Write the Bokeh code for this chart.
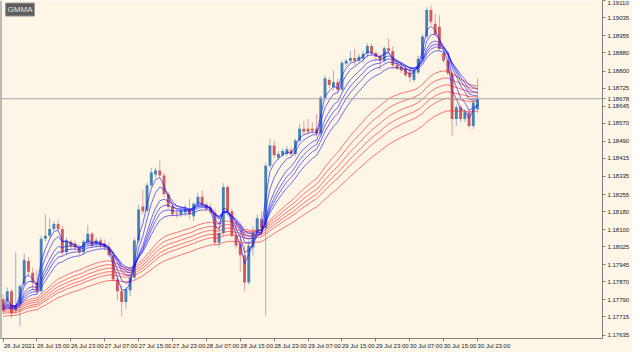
from bokeh.plotting import figure
from bokeh.models import (ColumnDataSource, FixedTicker, PrintfTickFormatter,
                          Span, Label, Range1d)
from bokeh.embed import file_html
from bokeh.resources import INLINE

# ---------------- data (EURUSD H1, 26 Jul 07:00 - 30 Jul 23:00 2021) -------------
opens = [1.17794, 1.17786, 1.17829, 1.17743, 1.17773, 1.17859, 1.17962, 1.17910, 1.17867, 1.17829,
         1.18060, 1.18073, 1.18103, 1.18125, 1.18103, 1.18000, 1.18048, 1.18039, 1.18022, 1.18000,
         1.18043, 1.18082, 1.18039, 1.18052, 1.18039, 1.18022, 1.17987, 1.17880, 1.17829, 1.17781,
         1.17833, 1.17889, 1.18052, 1.18202, 1.18185, 1.18296, 1.18344, 1.18361, 1.18339, 1.18258,
         1.18202, 1.18172, 1.18168, 1.18176, 1.18193, 1.18159, 1.18215, 1.18245, 1.18211, 1.18193,
         1.18176, 1.18043, 1.18086, 1.18288, 1.18181, 1.18073, 1.18039, 1.17987, 1.17867, 1.18022,
         1.18086, 1.18146, 1.18108, 1.18382, 1.18472, 1.18417, 1.18429, 1.18434, 1.18451, 1.18434,
         1.18494, 1.18545, 1.18545, 1.18545, 1.18545, 1.18524, 1.18683, 1.18760, 1.18730, 1.18751,
         1.18717, 1.18833, 1.18846, 1.18858, 1.18846, 1.18854, 1.18876, 1.18910, 1.18880, 1.18867,
         1.18846, 1.18901, 1.18889, 1.18828, 1.18820, 1.18811, 1.18794, 1.18760, 1.18794, 1.18854,
         1.18953, 1.19069, 1.19009, 1.18996, 1.18880, 1.18846, 1.18790, 1.18588, 1.18640, 1.18588,
         1.18618, 1.18558, 1.18631]
highs = [1.17816, 1.17846, 1.17837, 1.18000, 1.17859, 1.17996, 1.17979, 1.17932, 1.17923, 1.18073,
         1.18168, 1.18151, 1.18138, 1.18142, 1.18116, 1.18065, 1.18056, 1.18052, 1.18035, 1.18056,
         1.18120, 1.18090, 1.18065, 1.18065, 1.18056, 1.18043, 1.18009, 1.17893, 1.17859, 1.17846,
         1.17902, 1.18065, 1.18211, 1.18275, 1.18309, 1.18374, 1.18374, 1.18408, 1.18352, 1.18266,
         1.18215, 1.18185, 1.18198, 1.18211, 1.18236, 1.18223, 1.18262, 1.18275, 1.18223, 1.18215,
         1.18193, 1.18103, 1.18305, 1.18296, 1.18193, 1.18138, 1.18095, 1.18030, 1.18052, 1.18116,
         1.18168, 1.18181, 1.18395, 1.18502, 1.18494, 1.18447, 1.18459, 1.18468, 1.18464, 1.18502,
         1.18567, 1.18580, 1.18588, 1.18575, 1.18610, 1.18691, 1.18781, 1.18773, 1.18803, 1.18768,
         1.18846, 1.18854, 1.18889, 1.18897, 1.18876, 1.18889, 1.18923, 1.18923, 1.18889, 1.18876,
         1.18910, 1.18944, 1.18910, 1.18846, 1.18837, 1.18824, 1.18811, 1.18811, 1.18867, 1.18962,
         1.19082, 1.19090, 1.19052, 1.19047, 1.18889, 1.18854, 1.18803, 1.18652, 1.18652, 1.18631,
         1.18631, 1.18674, 1.18768]
lows = [1.17730, 1.17773, 1.17709, 1.17730, 1.17674, 1.17850, 1.17893, 1.17833, 1.17816, 1.17816,
        1.18048, 1.18065, 1.18095, 1.18095, 1.17987, 1.17987, 1.18013, 1.18009, 1.17987, 1.17992,
        1.18035, 1.18022, 1.18022, 1.18017, 1.18009, 1.17979, 1.17872, 1.17786, 1.17717, 1.17751,
        1.17807, 1.17880, 1.18039, 1.18168, 1.18176, 1.18288, 1.18331, 1.18331, 1.18245, 1.18193,
        1.18159, 1.18151, 1.18155, 1.18159, 1.18146, 1.18138, 1.18202, 1.18202, 1.18181, 1.18168,
        1.18030, 1.18022, 1.18073, 1.18159, 1.18065, 1.18017, 1.17914, 1.17829, 1.17859, 1.17987,
        1.18073, 1.18095, 1.17721, 1.18374, 1.18417, 1.18408, 1.18421, 1.18425, 1.18425, 1.18425,
        1.18485, 1.18520, 1.18520, 1.18524, 1.18511, 1.18515, 1.18674, 1.18725, 1.18717, 1.18704,
        1.18708, 1.18824, 1.18837, 1.18824, 1.18837, 1.18837, 1.18858, 1.18867, 1.18846, 1.18803,
        1.18837, 1.18880, 1.18811, 1.18803, 1.18790, 1.18773, 1.18751, 1.18751, 1.18786, 1.18846,
        1.18944, 1.19004, 1.18953, 1.18889, 1.18837, 1.18781, 1.18515, 1.18558, 1.18575, 1.18575,
        1.18545, 1.18545, 1.18614]
closes = [1.17743, 1.17829, 1.17730, 1.17764, 1.17850, 1.17966, 1.17914, 1.17867, 1.17829, 1.18060,
          1.18073, 1.18103, 1.18125, 1.18103, 1.18000, 1.18052, 1.18026, 1.18022, 1.18000, 1.18048,
          1.18082, 1.18030, 1.18052, 1.18030, 1.18022, 1.17987, 1.17880, 1.17829, 1.17781, 1.17837,
          1.17889, 1.18052, 1.18189, 1.18181, 1.18296, 1.18352, 1.18361, 1.18339, 1.18258, 1.18202,
          1.18168, 1.18168, 1.18185, 1.18193, 1.18168, 1.18215, 1.18245, 1.18211, 1.18193, 1.18176,
          1.18043, 1.18086, 1.18288, 1.18181, 1.18073, 1.18030, 1.17987, 1.17867, 1.18030, 1.18086,
          1.18151, 1.18108, 1.18382, 1.18472, 1.18429, 1.18434, 1.18447, 1.18455, 1.18434, 1.18494,
          1.18545, 1.18532, 1.18532, 1.18537, 1.18524, 1.18683, 1.18768, 1.18738, 1.18751, 1.18717,
          1.18837, 1.18846, 1.18858, 1.18846, 1.18863, 1.18876, 1.18910, 1.18876, 1.18863, 1.18846,
          1.18901, 1.18889, 1.18824, 1.18811, 1.18803, 1.18781, 1.18773, 1.18803, 1.18854, 1.18953,
          1.19069, 1.19017, 1.18962, 1.18897, 1.18846, 1.18790, 1.18588, 1.18640, 1.18588, 1.18618,
          1.18558, 1.18661, 1.18678]

# GMMA: short (blue) and long (red) EMA periods, with each EMA's value at the first visible bar
short_periods = [3, 5, 8, 10, 12, 15]
short_start = [1.17764, 1.17760, 1.17755, 1.17751, 1.17747, 1.17743]
long_periods = [30, 35, 40, 45, 50, 60]
long_start = [1.17764, 1.17755, 1.17747, 1.17738, 1.17730, 1.17717]

last_price = 1.18678
price_ticks = [1.19110, 1.19035, 1.18955, 1.18880, 1.18800, 1.18725, 1.18645, 1.18570,
               1.18490, 1.18415, 1.18335, 1.18255, 1.18180, 1.18100, 1.18025, 1.17945,
               1.17870, 1.17790, 1.17715, 1.17635]
time_tick_bars = [0, 8, 16, 24, 32, 40, 48, 56, 64, 72, 80, 88, 96, 104, 112]
time_labels = ["26 Jul 2021", "26 Jul 15:00", "26 Jul 23:00", "27 Jul 07:00", "27 Jul 15:00",
               "27 Jul 23:00", "28 Jul 07:00", "28 Jul 15:00", "28 Jul 23:00", "29 Jul 07:00",
               "29 Jul 15:00", "29 Jul 23:00", "30 Jul 07:00", "30 Jul 15:00", "30 Jul 23:00"]


def ema(values, period, start):
    k = 2.0 / (period + 1)
    out = [start]
    for v in values[1:]:
        out.append(out[-1] + k * (v - out[-1]))
    return out


BG = "#fdf5e6"
UP = "#4682b4"
DOWN = "#cd5c5c"
FONT = "Liberation Sans"
FS = "6px"

y0, y1 = 1.17620, 1.191113
x0, x1 = -0.6, 141.5
LABEL_SHIFT = 3.875  # bars: puts each centred time label just right of its tick

p = figure(width=632, height=352, output_backend="svg", toolbar_location=None,
           x_range=Range1d(x0, x1), y_range=Range1d(y0, y1),
           x_axis_location="below", y_axis_location="right",
           min_border_left=0, min_border_top=0, min_border_right=26, min_border_bottom=14,
           background_fill_color=BG, border_fill_color=BG, outline_line_color=None)
p.grid.visible = False

# candles
idx = list(range(len(closes)))
colors = [UP if c >= o else DOWN for o, c in zip(opens, closes)]
src = ColumnDataSource(dict(
    x=idx, h=highs, l=lows,
    top=[max(o, c) for o, c in zip(opens, closes)],
    bottom=[min(o, c) for o, c in zip(opens, closes)],
    color=colors))
p.segment(x0="x", y0="h", x1="x", y1="l", source=src, line_color="color",
          line_alpha=0.55, line_width=1)
p.vbar(x="x", top="top", bottom="bottom", width=0.68, source=src,
       fill_color="color", line_color=None)

# GMMA lines
for per, st in zip(long_periods, long_start):
    p.line(idx, ema(closes, per, st), line_color="#ff2020", line_alpha=0.6, line_width=1)
for per, st in zip(short_periods, short_start):
    p.line(idx, ema(closes, per, st), line_color="#1010ff", line_alpha=0.6, line_width=1)

# current price line and left border
p.add_layout(Span(location=last_price, dimension="width", line_color="#a8a8a8", line_width=1))
p.add_layout(Span(location=x0, dimension="height", line_color="#808080", line_width=2))

# right price axis (includes the last price)
ax = p.yaxis[0]
ax.ticker = FixedTicker(ticks=price_ticks + [last_price])
ax.formatter = PrintfTickFormatter(format="%.5f")
ax.major_label_text_font_size = FS
ax.major_label_text_font = FONT
ax.major_label_text_color = "#222222"
ax.major_tick_out = 3
ax.major_tick_in = 0
ax.minor_tick_line_color = None
ax.axis_line_color = "#7f7f7f"
ax.major_tick_line_color = "#7f7f7f"
ax.major_label_standoff = 2

# bottom time axis: minor ticks mark the bars, major (hidden) ticks carry the labels
label_pos = [b + LABEL_SHIFT for b in time_tick_bars]
bx = p.xaxis[0]
bx.ticker = FixedTicker(ticks=label_pos, minor_ticks=time_tick_bars)
bx.major_label_overrides = {lp: t for lp, t in zip(label_pos, time_labels)}
bx.major_label_text_font_size = FS
bx.major_label_text_font = FONT
bx.major_label_text_color = "#222222"
bx.major_label_standoff = 1
bx.major_tick_out = 3
bx.major_tick_in = 0
bx.major_tick_line_color = None
bx.minor_tick_out = 3
bx.minor_tick_in = 0
bx.minor_tick_line_color = "#7f7f7f"
bx.axis_line_color = "#7f7f7f"

# GMMA button
p.add_layout(Label(x=0.6, y=1.19100, text="GMMA", text_font_size="8px", text_font=FONT,
                   text_color="#e6e6e6", text_align="left", text_baseline="top",
                   background_fill_color="#5c5c5c", border_line_color="#9a9a9a",
                   padding=2))

open("out.html", "w").write(file_html(p, INLINE))
